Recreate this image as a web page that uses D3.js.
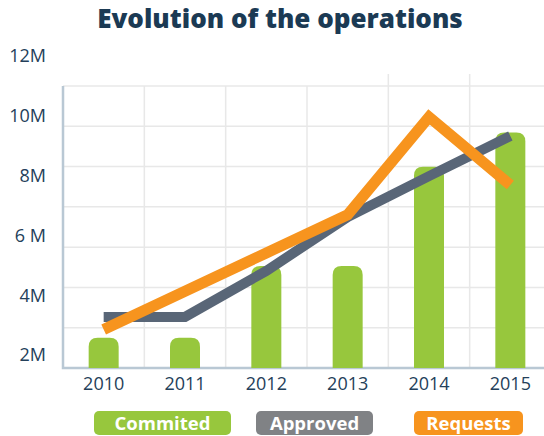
<!DOCTYPE html>
<html>
<head>
<meta charset="utf-8">
<script src="https://cdn.jsdelivr.net/npm/d3@7"></script>
<style>
  html, body { margin: 0; padding: 0; background: #fff; }
  text { font-family: "Open Sans", "Noto Sans", sans-serif; }
</style>
</head>
<body>
<div id="chart"></div>
<script>
const years = ["2010", "2011", "2012", "2013", "2014", "2015"];
const commited = [2.58, 2.58, 4.98, 4.98, 8.3, 9.45];
const approved = [3.28, 3.28, 4.82, 6.62, 7.99, 9.33];
const requests = [2.86, 4.14, 5.42, 6.7, 9.97, 7.69];
const yTickValues = [2, 4, 6, 8, 10, 12];
const yTickLabels = ["2M", "4M", "6 M", "8M", "10M", "12M"];
const legendNames = ["Commited", "Approved", "Requests"];

const width = 544, height = 436;
const plot = { left: 63, right: 551, top: 86, bottom: 368 };

const svg = d3.select("#chart")
    .append("svg")
    .attr("width", width)
    .attr("height", height);

// title
svg.append("text")
    .attr("x", 280)
    .attr("y", 28)
    .attr("text-anchor", "middle")
    .attr("font-size", 26)
    .attr("font-weight", 800)
    .attr("fill", "#1b3a54")
    .text("Evolution of the operations");

const x = d3.scaleBand()
    .domain(years)
    .range([plot.left, plot.right]);

const y = d3.scaleLinear()
    .domain([0, 12])
    .range([415, 56.2]);

// grid
const grid = svg.append("g").attr("stroke", "#e8e8e8").attr("stroke-width", 1.5);
d3.range(1, 8).forEach(i => {
    const gy = plot.bottom - i * (plot.bottom - plot.top) / 7;
    grid.append("line")
        .attr("x1", plot.left).attr("x2", width)
        .attr("y1", gy).attr("y2", gy);
});
years.slice(1).forEach((yr, i) => {
    grid.append("line")
        .attr("x1", x(yr)).attr("x2", x(yr))
        .attr("y1", i >= 3 ? 74 : plot.top).attr("y2", plot.bottom);
});

// axis lines
svg.append("path")
    .attr("d", `M${plot.left},${plot.top}V${plot.bottom}H${width}`)
    .attr("fill", "none")
    .attr("stroke", "#b9c8d4")
    .attr("stroke-width", 2.5);

// y labels
const yAxis = svg.append("g")
    .attr("transform", "translate(46,0)")
    .call(d3.axisLeft(y).tickValues(yTickValues).tickSize(0).tickPadding(0)
        .tickFormat((d, i) => yTickLabels[i]));
yAxis.select(".domain").remove();
yAxis.selectAll("text")
    .attr("font-family", "Open Sans")
    .attr("font-size", 18)
    .attr("fill", "#24405a");

// x labels
const xAxis = svg.append("g")
    .attr("transform", `translate(0,${plot.bottom})`)
    .call(d3.axisBottom(x).tickSize(0).tickPadding(9));
xAxis.select(".domain").remove();
xAxis.selectAll("text")
    .attr("font-family", "Open Sans")
    .attr("font-size", 18)
    .attr("fill", "#24405a");

// bars with rounded tops
const barW = 30, r = 9;
svg.append("g")
    .selectAll("path")
    .data(commited)
    .join("path")
    .attr("fill", "#97c73d")
    .attr("d", (d, i) => {
        const cx = x(years[i]) + x.bandwidth() / 2;
        const x0 = cx - barW / 2, x1 = cx + barW / 2, top = y(d);
        return `M${x0},${plot.bottom}V${top + r}Q${x0},${top} ${x0 + r},${top}` +
            `H${x1 - r}Q${x1},${top} ${x1},${top + r}V${plot.bottom}Z`;
    });

// lines
const line = d3.line()
    .x((d, i) => x(years[i]) + x.bandwidth() / 2)
    .y(d => y(d));

svg.append("path")
    .datum(approved)
    .attr("d", line)
    .attr("fill", "none")
    .attr("stroke", "#596677")
    .attr("stroke-width", 10)
    .attr("stroke-linejoin", "miter");

svg.append("path")
    .datum(requests)
    .attr("d", line)
    .attr("fill", "none")
    .attr("stroke", "#f7941e")
    .attr("stroke-width", 11)
    .attr("stroke-linejoin", "miter");

// legend
const legendColors = ["#97c73d", "#808285", "#f7941e"];
const legendBoxes = [[94, 137], [256, 117], [414, 109]];
const legend = svg.append("g")
    .selectAll("g")
    .data(legendNames)
    .join("g")
    .attr("transform", (d, i) => `translate(${legendBoxes[i][0]},411)`);
legend.append("rect")
    .attr("width", (d, i) => legendBoxes[i][1])
    .attr("height", 24)
    .attr("rx", 5)
    .attr("fill", (d, i) => legendColors[i]);
legend.append("text")
    .attr("x", (d, i) => legendBoxes[i][1] / 2)
    .attr("y", 18.5)
    .attr("text-anchor", "middle")
    .attr("font-size", 18.5)
    .attr("font-weight", 700)
    .attr("fill", "#fff")
    .text(d => d);
</script>
</body>
</html>
